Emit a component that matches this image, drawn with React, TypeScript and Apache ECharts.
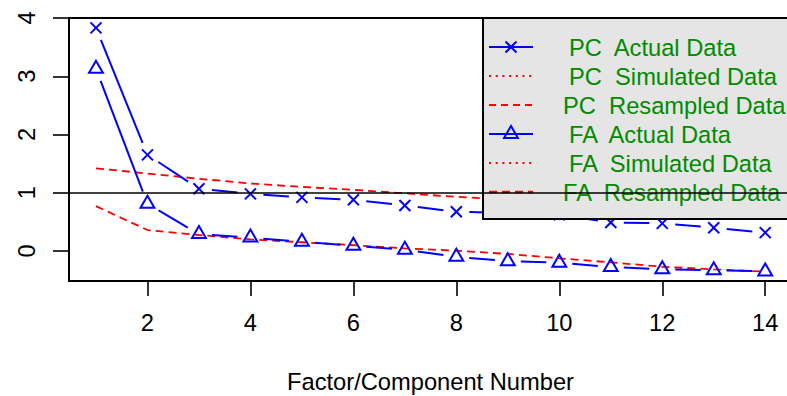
import React, { useEffect, useRef } from "react";
import * as echarts from "echarts";

const factorNumbers = [1, 2, 3, 4, 5, 6, 7, 8, 9, 10, 11, 12, 13, 14];
const pcActual = [3.83, 1.65, 1.07, 0.98, 0.92, 0.88, 0.78, 0.675, 0.65, 0.62, 0.49, 0.475, 0.4, 0.315];
const faActual = [3.13, 0.81, 0.29, 0.23, 0.16, 0.09, 0.02, -0.1, -0.175, -0.2, -0.275, -0.315, -0.33, -0.35];
const pcResampled = [1.42, 1.33, 1.24, 1.16, 1.1, 1.05, 0.99, 0.93, 0.88, 0.83, 0.78, 0.73, 0.68, 0.62];
const faResampled = [0.77, 0.36, 0.275, 0.2, 0.15, 0.1, 0.045, 0.005, -0.05, -0.125, -0.195, -0.27, -0.315, -0.355];
const xTicks = [2, 4, 6, 8, 10, 12, 14];
const yTicks = [0, 1, 2, 3, 4];
const referenceLine = 1;
const legendNames = [
  "PC  Actual Data",
  "PC  Simulated Data",
  "PC  Resampled Data",
  "FA  Actual Data",
  "FA  Simulated Data",
  "FA  Resampled Data",
];
const xLabel = "Factor/Component Number";

const X_MIN = 0.476;
const X_MAX = 14.52;
const Y_MIN = -0.515;
const Y_MAX = 4.0;

const FONT = "'Liberation Sans', Arial, Helvetica, sans-serif";
const FS = 23.7;
const BLUE = "#0000FF";
const RED = "#FF0000";
const GREEN = "#008B00";

const GRID = { left: 69, top: 18, right: -5, bottom: 115, outerBoundsMode: "none" };

function gappedSeries(name: string, values: number[], marker: "x" | "tri") {
  const data = factorNumbers.map((x, i) => [x, values[i]]);
  return {
    type: "custom",
    name,
    z: 3,
    clip: false,
    silent: true,
    data,
    renderItem: (params: any, api: any) => {
      const i = params.dataIndex;
      const p = api.coord([data[i][0], data[i][1]]);
      const children: any[] = [];
      const style = { stroke: BLUE, lineWidth: 2, fill: "none" };
      if (marker === "x") {
        const s = 5.5;
        children.push({ type: "line", shape: { x1: p[0] - s, y1: p[1] - s, x2: p[0] + s, y2: p[1] + s }, style });
        children.push({ type: "line", shape: { x1: p[0] - s, y1: p[1] + s, x2: p[0] + s, y2: p[1] - s }, style });
      } else {
        const r = 8;
        children.push({
          type: "polygon",
          shape: { points: [[p[0], p[1] - r], [p[0] + 0.866 * r, p[1] + r / 2], [p[0] - 0.866 * r, p[1] + r / 2]] },
          style,
        });
      }
      if (i < data.length - 1) {
        const q = api.coord([data[i + 1][0], data[i + 1][1]]);
        const dx = q[0] - p[0];
        const dy = q[1] - p[1];
        const len = Math.sqrt(dx * dx + dy * dy);
        const gap = 13;
        if (len > 2 * gap) {
          const ux = dx / len;
          const uy = dy / len;
          children.push({
            type: "line",
            shape: { x1: p[0] + ux * gap, y1: p[1] + uy * gap, x2: q[0] - ux * gap, y2: q[1] - uy * gap },
            style,
          });
        }
      }
      return { type: "group", children };
    },
  };
}

function dashedSeries(name: string, values: number[], withRefLine: boolean) {
  const s: any = {
    type: "line",
    name,
    z: 2,
    clip: false,
    silent: true,
    symbol: "none",
    data: factorNumbers.map((x, i) => [x, values[i]]),
    lineStyle: { color: RED, width: 1.8, type: [8, 5] },
  };
  if (withRefLine) {
    s.markLine = {
      z: 20,
      silent: true,
      symbol: "none",
      animation: false,
      label: { show: false },
      lineStyle: { color: "#000", width: 1.6, type: "solid" },
      data: [{ yAxis: referenceLine }],
    };
  }
  return s;
}

function legendGraphic() {
  const left = 483;
  const top = 18;
  const rowTop = 47;
  const rowGap = 29;
  const els: any[] = [
    {
      type: "rect",
      z: 8,
      shape: { x: left, y: top, width: 330, height: 201 },
      style: { fill: "#E5E5E5", stroke: "#000", lineWidth: 2 },
    },
  ];
  const styles = [
    { kind: "x", dash: null as any, color: BLUE, width: 2 },
    { kind: "none", dash: [2, 4.7], color: RED, width: 1.8 },
    { kind: "none", dash: [7, 5], color: RED, width: 1.8 },
    { kind: "tri", dash: null as any, color: BLUE, width: 2 },
    { kind: "none", dash: [2, 4.7], color: RED, width: 1.8 },
    { kind: "none", dash: [8, 5], color: RED, width: 2.6 },
  ];
  legendNames.forEach((name, i) => {
    const y = rowTop + i * rowGap;
    const st = styles[i];
    const lineStyle: any = { stroke: st.color, lineWidth: st.width };
    if (st.dash) lineStyle.lineDash = st.dash;
    els.push({ type: "line", z: 9, shape: { x1: 489, y1: y, x2: 533, y2: y }, style: lineStyle });
    if (st.kind === "x") {
      const s = 5.5;
      els.push({ type: "line", z: 9, shape: { x1: 511 - s, y1: y - s, x2: 511 + s, y2: y + s }, style: { stroke: BLUE, lineWidth: 2 } });
      els.push({ type: "line", z: 9, shape: { x1: 511 - s, y1: y + s, x2: 511 + s, y2: y - s }, style: { stroke: BLUE, lineWidth: 2 } });
    } else if (st.kind === "tri") {
      const r = 8;
      els.push({
        type: "polygon",
        z: 9,
        shape: { points: [[511, y - r], [511 + 0.866 * r, y + r / 2], [511 - 0.866 * r, y + r / 2]] },
        style: { stroke: BLUE, lineWidth: 2, fill: "none" },
      });
    }
    els.push({
      type: "text",
      z: 9,
      x: name.indexOf("Resampled") >= 0 ? 563 : 569,
      y: y + 1,
      style: { text: name, fill: GREEN, font: `${FS}px ${FONT}`, align: "left", verticalAlign: "middle" },
    });
  });
  return els;
}

export default function App() {
  const axesRef = useRef<HTMLDivElement>(null);
  const plotRef = useRef<HTMLDivElement>(null);
  useEffect(() => {
    if (!axesRef.current || !plotRef.current) return;
    const axisText = { color: "#000", fontSize: FS, fontFamily: FONT };

    // layer 1: frame, axes, ticks, tick labels, axis title
    const axes = echarts.init(axesRef.current, null, { renderer: "svg" });
    axes.setOption({
      animation: false,
      backgroundColor: "#fff",
      grid: { ...GRID, show: true, borderColor: "#000", borderWidth: 2 },
      xAxis: {
        type: "value",
        min: X_MIN,
        max: X_MAX,
        axisLine: { onZero: false, lineStyle: { color: "#000", width: 2 } },
        splitLine: { show: false },
        axisTick: { show: true, length: 15, customValues: xTicks, lineStyle: { color: "#000", width: 1.6 } },
        axisLabel: { ...axisText, customValues: xTicks, margin: 30 },
        name: xLabel,
        nameLocation: "middle",
        nameGap: 89,
        nameTextStyle: axisText,
      },
      yAxis: {
        type: "value",
        min: Y_MIN,
        max: Y_MAX,
        axisLine: { onZero: false, lineStyle: { color: "#000", width: 2 } },
        splitLine: { show: false },
        axisTick: { show: true, length: 16, customValues: yTicks, lineStyle: { color: "#000", width: 1.6 } },
        axisLabel: { ...axisText, customValues: yTicks, rotate: 90, align: "center", verticalAlign: "middle", margin: 42 },
      },
      series: [
        {
          type: "line",
          silent: true,
          symbol: "none",
          data: factorNumbers.map((x, i) => [x, pcResampled[i]]),
          lineStyle: { opacity: 0 },
        },
      ],
    });

    // layer 2: data, legend and the reference line
    const plot = echarts.init(plotRef.current, null, { renderer: "svg" });
    plot.setOption({
      animation: false,
      backgroundColor: "rgba(0,0,0,0)",
      grid: { ...GRID, show: false },
      xAxis: { type: "value", min: X_MIN, max: X_MAX, show: false },
      yAxis: { type: "value", min: Y_MIN, max: Y_MAX, show: false },
      series: [
        dashedSeries("PC Resampled Data", pcResampled, true),
        dashedSeries("FA Resampled Data", faResampled, false),
        gappedSeries("PC Actual Data", pcActual, "x"),
        gappedSeries("FA Actual Data", faActual, "tri"),
      ],
      graphic: legendGraphic(),
    });

    return () => {
      axes.dispose();
      plot.dispose();
    };
  }, []);
  return (
    <div style={{ width: 787, height: 396, position: "absolute", left: 0, top: 0 }}>
      <div ref={axesRef} style={{ width: 787, height: 396, position: "absolute", left: 0, top: 0 }} />
      <div ref={plotRef} style={{ width: 787, height: 396, position: "absolute", left: 0, top: 0 }} />
    </div>
  );
}
